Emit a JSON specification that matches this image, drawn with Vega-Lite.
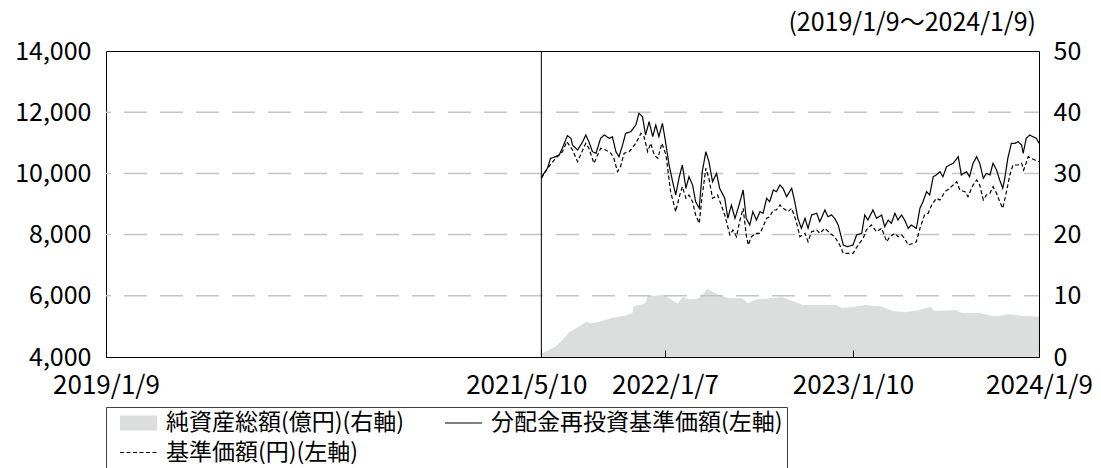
{
  "$schema": "https://vega.github.io/schema/vega-lite/v6.json",
  "width": 933,
  "height": 306,
  "autosize": {"type": "none"},
  "padding": {"left": 106, "top": 51, "right": 62, "bottom": 111},
  "background": "#ffffff",
  "title": {"text": "(2019/1/9～2024/1/9)", "anchor": "end", "frame": "group", "orient": "top", "offset": 3, "dx": -3, "font": "Noto Sans CJK JP", "fontSize": 25, "fontWeight": "normal", "color": "#000000"},
  "datasets": {
    "nav": [
      {"d": "2021/05/10", "s": "純資産総額(億円)(右軸)", "v": 0.3},
      {"d": "2021/05/12", "s": "純資産総額(億円)(右軸)", "v": 0.65},
      {"d": "2021/05/25", "s": "純資産総額(億円)(右軸)", "v": 1.1},
      {"d": "2021/06/07", "s": "純資産総額(億円)(右軸)", "v": 1.7},
      {"d": "2021/06/18", "s": "純資産総額(億円)(右軸)", "v": 2.6},
      {"d": "2021/06/27", "s": "純資産総額(億円)(右軸)", "v": 3.4},
      {"d": "2021/07/03", "s": "純資産総額(億円)(右軸)", "v": 4.0},
      {"d": "2021/07/23", "s": "純資産総額(億円)(右軸)", "v": 5.0},
      {"d": "2021/08/05", "s": "純資産総額(億円)(右軸)", "v": 5.7},
      {"d": "2021/08/15", "s": "純資産総額(億円)(右軸)", "v": 5.5},
      {"d": "2021/08/31", "s": "純資産総額(億円)(右軸)", "v": 5.7},
      {"d": "2021/09/26", "s": "純資産総額(億円)(右軸)", "v": 6.4},
      {"d": "2021/10/22", "s": "純資産総額(億円)(右軸)", "v": 6.8},
      {"d": "2021/11/04", "s": "純資産総額(億円)(右軸)", "v": 7.2},
      {"d": "2021/11/07", "s": "純資産総額(億円)(右軸)", "v": 8.3},
      {"d": "2021/11/30", "s": "純資産総額(億円)(右軸)", "v": 8.8},
      {"d": "2021/12/04", "s": "純資産総額(億円)(右軸)", "v": 10.0},
      {"d": "2021/12/20", "s": "純資産総額(億円)(右軸)", "v": 10.0},
      {"d": "2022/01/05", "s": "純資産総額(億円)(右軸)", "v": 10.2},
      {"d": "2022/01/15", "s": "純資産総額(億円)(右軸)", "v": 9.6},
      {"d": "2022/02/01", "s": "純資産総額(億円)(右軸)", "v": 8.7},
      {"d": "2022/02/10", "s": "純資産総額(億円)(右軸)", "v": 9.8},
      {"d": "2022/02/25", "s": "純資産総額(億円)(右軸)", "v": 9.4},
      {"d": "2022/03/15", "s": "純資産総額(億円)(右軸)", "v": 9.6},
      {"d": "2022/03/31", "s": "純資産総額(億円)(右軸)", "v": 11.1},
      {"d": "2022/04/20", "s": "純資産総額(億円)(右軸)", "v": 10.2},
      {"d": "2022/05/12", "s": "純資産総額(億円)(右軸)", "v": 9.6},
      {"d": "2022/06/08", "s": "純資産総額(億円)(右軸)", "v": 9.6},
      {"d": "2022/06/18", "s": "純資産総額(億円)(右軸)", "v": 8.8},
      {"d": "2022/07/04", "s": "純資産総額(億円)(右軸)", "v": 9.4},
      {"d": "2022/07/30", "s": "純資産総額(億円)(右軸)", "v": 9.6},
      {"d": "2022/08/25", "s": "純資産総額(億円)(右軸)", "v": 9.8},
      {"d": "2022/09/15", "s": "純資産総額(億円)(右軸)", "v": 9.1},
      {"d": "2022/10/03", "s": "純資産総額(億円)(右軸)", "v": 8.5},
      {"d": "2022/11/05", "s": "純資産総額(億円)(右軸)", "v": 8.5},
      {"d": "2022/12/07", "s": "純資産総額(億円)(右軸)", "v": 8.5},
      {"d": "2022/12/20", "s": "純資産総額(億円)(右軸)", "v": 8.0},
      {"d": "2023/01/09", "s": "純資産総額(億円)(右軸)", "v": 8.2},
      {"d": "2023/02/04", "s": "純資産総額(億円)(右軸)", "v": 8.5},
      {"d": "2023/03/09", "s": "純資産総額(億円)(右軸)", "v": 8.2},
      {"d": "2023/03/28", "s": "純資産総額(億円)(右軸)", "v": 7.5},
      {"d": "2023/04/23", "s": "純資産総額(億円)(右軸)", "v": 7.3},
      {"d": "2023/05/19", "s": "純資産総額(億円)(右軸)", "v": 7.7},
      {"d": "2023/06/11", "s": "純資産総額(億円)(右軸)", "v": 8.2},
      {"d": "2023/06/18", "s": "純資産総額(億円)(右軸)", "v": 7.5},
      {"d": "2023/07/31", "s": "純資産総額(億円)(右軸)", "v": 7.7},
      {"d": "2023/08/10", "s": "純資産総額(億円)(右軸)", "v": 7.2},
      {"d": "2023/09/14", "s": "純資産総額(億円)(右軸)", "v": 7.2},
      {"d": "2023/10/17", "s": "純資産総額(億円)(右軸)", "v": 6.6},
      {"d": "2023/11/12", "s": "純資産総額(億円)(右軸)", "v": 7.0},
      {"d": "2023/12/08", "s": "純資産総額(億円)(右軸)", "v": 6.7},
      {"d": "2024/01/06", "s": "純資産総額(億円)(右軸)", "v": 6.6},
      {"d": "2024/01/09", "s": "純資産総額(億円)(右軸)", "v": 6.6}
    ],
    "price": [
      {"d": "2021/05/10", "s": "分配金再投資基準価額(左軸)", "v": 9840},
      {"d": "2021/05/13", "s": "分配金再投資基準価額(左軸)", "v": 9948},
      {"d": "2021/05/22", "s": "分配金再投資基準価額(左軸)", "v": 10167},
      {"d": "2021/05/28", "s": "分配金再投資基準価額(左軸)", "v": 10494},
      {"d": "2021/06/07", "s": "分配金再投資基準価額(左軸)", "v": 10546},
      {"d": "2021/06/14", "s": "分配金再投資基準価額(左軸)", "v": 10601},
      {"d": "2021/06/20", "s": "分配金再投資基準価額(左軸)", "v": 10820},
      {"d": "2021/06/30", "s": "分配金再投資基準価額(左軸)", "v": 11232},
      {"d": "2021/07/07", "s": "分配金再投資基準価額(左軸)", "v": 11147},
      {"d": "2021/07/10", "s": "分配金再投資基準価額(左軸)", "v": 10928},
      {"d": "2021/07/20", "s": "分配金再投資基準価額(左軸)", "v": 10765},
      {"d": "2021/07/30", "s": "分配金再投資基準価額(左軸)", "v": 11036},
      {"d": "2021/08/05", "s": "分配金再投資基準価額(左軸)", "v": 11255},
      {"d": "2021/08/11", "s": "分配金再投資基準価額(左軸)", "v": 11036},
      {"d": "2021/08/18", "s": "分配金再投資基準価額(左軸)", "v": 10710},
      {"d": "2021/08/25", "s": "分配金再投資基準価額(左軸)", "v": 10657},
      {"d": "2021/09/03", "s": "分配金再投資基準価額(左軸)", "v": 11147},
      {"d": "2021/09/10", "s": "分配金再投資基準価額(左軸)", "v": 11255},
      {"d": "2021/09/20", "s": "分配金再投資基準価額(左軸)", "v": 11147},
      {"d": "2021/09/26", "s": "分配金再投資基準価額(左軸)", "v": 11200},
      {"d": "2021/10/03", "s": "分配金再投資基準価額(左軸)", "v": 10710},
      {"d": "2021/10/09", "s": "分配金再投資基準価額(左軸)", "v": 10546},
      {"d": "2021/10/16", "s": "分配金再投資基準価額(左軸)", "v": 10928},
      {"d": "2021/10/22", "s": "分配金再投資基準価額(左軸)", "v": 11310},
      {"d": "2021/11/01", "s": "分配金再投資基準価額(左軸)", "v": 11363},
      {"d": "2021/11/11", "s": "分配金再投資基準価額(左軸)", "v": 11582},
      {"d": "2021/11/17", "s": "分配金再投資基準価額(左軸)", "v": 11964},
      {"d": "2021/11/24", "s": "分配金再投資基準価額(左軸)", "v": 11853},
      {"d": "2021/11/30", "s": "分配金再投資基準価額(左軸)", "v": 11255},
      {"d": "2021/12/07", "s": "分配金再投資基準価額(左軸)", "v": 11690},
      {"d": "2021/12/14", "s": "分配金再投資基準価額(左軸)", "v": 11200},
      {"d": "2021/12/20", "s": "分配金再投資基準価額(左軸)", "v": 11582},
      {"d": "2021/12/26", "s": "分配金再投資基準価額(左軸)", "v": 11200},
      {"d": "2022/01/02", "s": "分配金再投資基準価額(左軸)", "v": 11636},
      {"d": "2022/01/07", "s": "分配金再投資基準価額(左軸)", "v": 11147},
      {"d": "2022/01/15", "s": "分配金再投資基準価額(左軸)", "v": 10275},
      {"d": "2022/01/22", "s": "分配金再投資基準価額(左軸)", "v": 9729},
      {"d": "2022/01/28", "s": "分配金再投資基準価額(左軸)", "v": 9294},
      {"d": "2022/02/04", "s": "分配金再投資基準価額(左軸)", "v": 9892},
      {"d": "2022/02/10", "s": "分配金再投資基準価額(左軸)", "v": 10275},
      {"d": "2022/02/17", "s": "分配金再投資基準価額(左軸)", "v": 9513},
      {"d": "2022/02/23", "s": "分配金再投資基準価額(左軸)", "v": 9892},
      {"d": "2022/03/02", "s": "分配金再投資基準価額(左軸)", "v": 9621},
      {"d": "2022/03/08", "s": "分配金再投資基準価額(左軸)", "v": 9076},
      {"d": "2022/03/15", "s": "分配金再投資基準価額(左軸)", "v": 8860},
      {"d": "2022/03/21", "s": "分配金再投資基準価額(左軸)", "v": 10056},
      {"d": "2022/03/28", "s": "分配金再投資基準価額(左軸)", "v": 10710},
      {"d": "2022/04/03", "s": "分配金再投資基準価額(左軸)", "v": 10383},
      {"d": "2022/04/10", "s": "分配金再投資基準価額(左軸)", "v": 9729},
      {"d": "2022/04/18", "s": "分配金再投資基準価額(左軸)", "v": 10003},
      {"d": "2022/04/24", "s": "分配金再投資基準価額(左軸)", "v": 9513},
      {"d": "2022/05/04", "s": "分配金再投資基準価額(左軸)", "v": 9186},
      {"d": "2022/05/10", "s": "分配金再投資基準価額(左軸)", "v": 8533},
      {"d": "2022/05/17", "s": "分配金再投資基準価額(左軸)", "v": 8967},
      {"d": "2022/05/24", "s": "分配金再投資基準価額(左軸)", "v": 8533},
      {"d": "2022/05/31", "s": "分配金再投資基準価額(左軸)", "v": 8912},
      {"d": "2022/06/09", "s": "分配金再投資基準価額(左軸)", "v": 9458},
      {"d": "2022/06/15", "s": "分配金再投資基準価額(左軸)", "v": 8533},
      {"d": "2022/06/22", "s": "分配金再投資基準価額(左軸)", "v": 8314},
      {"d": "2022/06/28", "s": "分配金再投資基準価額(左軸)", "v": 8749},
      {"d": "2022/07/05", "s": "分配金再投資基準価額(左軸)", "v": 8477},
      {"d": "2022/07/12", "s": "分配金再投資基準価額(左軸)", "v": 8749},
      {"d": "2022/07/18", "s": "分配金再投資基準価額(左軸)", "v": 8696},
      {"d": "2022/07/25", "s": "分配金再投資基準価額(左軸)", "v": 9186},
      {"d": "2022/07/31", "s": "分配金再投資基準価額(左軸)", "v": 9076},
      {"d": "2022/08/07", "s": "分配金再投資基準価額(左軸)", "v": 9458},
      {"d": "2022/08/13", "s": "分配金再投資基準価額(左軸)", "v": 9403},
      {"d": "2022/08/20", "s": "分配金再投資基準価額(左軸)", "v": 9621},
      {"d": "2022/08/26", "s": "分配金再投資基準価額(左軸)", "v": 9513},
      {"d": "2022/09/02", "s": "分配金再投資基準価額(左軸)", "v": 9239},
      {"d": "2022/09/12", "s": "分配金再投資基準価額(左軸)", "v": 9513},
      {"d": "2022/09/18", "s": "分配金再投資基準価額(左軸)", "v": 9076},
      {"d": "2022/09/24", "s": "分配金再投資基準価額(左軸)", "v": 8533},
      {"d": "2022/10/01", "s": "分配金再投資基準価額(左軸)", "v": 8206},
      {"d": "2022/10/08", "s": "分配金再投資基準価額(左軸)", "v": 8533},
      {"d": "2022/10/14", "s": "分配金再投資基準価額(左軸)", "v": 8206},
      {"d": "2022/10/21", "s": "分配金再投資基準価額(左軸)", "v": 8641},
      {"d": "2022/10/31", "s": "分配金再投資基準価額(左軸)", "v": 8696},
      {"d": "2022/11/06", "s": "分配金再投資基準価額(左軸)", "v": 8422},
      {"d": "2022/11/16", "s": "分配金再投資基準価額(左軸)", "v": 8804},
      {"d": "2022/11/22", "s": "分配金再投資基準価額(左軸)", "v": 8585},
      {"d": "2022/11/29", "s": "分配金再投資基準価額(左軸)", "v": 8641},
      {"d": "2022/12/05", "s": "分配金再投資基準価額(左軸)", "v": 8533},
      {"d": "2022/12/12", "s": "分配金再投資基準価額(左軸)", "v": 8314},
      {"d": "2022/12/22", "s": "分配金再投資基準価額(左軸)", "v": 7660},
      {"d": "2022/12/30", "s": "分配金再投資基準価額(左軸)", "v": 7605},
      {"d": "2023/01/10", "s": "分配金再投資基準価額(左軸)", "v": 7660},
      {"d": "2023/01/17", "s": "分配金再投資基準価額(左軸)", "v": 7987},
      {"d": "2023/01/27", "s": "分配金再投資基準価額(左軸)", "v": 8042},
      {"d": "2023/02/02", "s": "分配金再投資基準価額(左軸)", "v": 8641},
      {"d": "2023/02/08", "s": "分配金再投資基準価額(左軸)", "v": 8477},
      {"d": "2023/02/18", "s": "分配金再投資基準価額(左軸)", "v": 8804},
      {"d": "2023/02/25", "s": "分配金再投資基準価額(左軸)", "v": 8533},
      {"d": "2023/03/07", "s": "分配金再投資基準価額(左軸)", "v": 8641},
      {"d": "2023/03/13", "s": "分配金再投資基準価額(左軸)", "v": 8259},
      {"d": "2023/03/20", "s": "分配金再投資基準価額(左軸)", "v": 8477},
      {"d": "2023/03/26", "s": "分配金再投資基準価額(左軸)", "v": 8368},
      {"d": "2023/04/02", "s": "分配金再投資基準価額(左軸)", "v": 8696},
      {"d": "2023/04/08", "s": "分配金再投資基準価額(左軸)", "v": 8477},
      {"d": "2023/04/15", "s": "分配金再投資基準価額(左軸)", "v": 8641},
      {"d": "2023/04/21", "s": "分配金再投資基準価額(左軸)", "v": 8477},
      {"d": "2023/04/28", "s": "分配金再投資基準価額(左軸)", "v": 8206},
      {"d": "2023/05/04", "s": "分配金再投資基準価額(左軸)", "v": 8314},
      {"d": "2023/05/14", "s": "分配金再投資基準価額(左軸)", "v": 8206},
      {"d": "2023/05/21", "s": "分配金再投資基準価額(左軸)", "v": 8860},
      {"d": "2023/05/27", "s": "分配金再投資基準価額(左軸)", "v": 9076},
      {"d": "2023/06/03", "s": "分配金再投資基準価額(左軸)", "v": 9403},
      {"d": "2023/06/09", "s": "分配金再投資基準価額(左軸)", "v": 9294},
      {"d": "2023/06/16", "s": "分配金再投資基準価額(左軸)", "v": 9892},
      {"d": "2023/06/22", "s": "分配金再投資基準価額(左軸)", "v": 9948},
      {"d": "2023/06/29", "s": "分配金再投資基準価額(左軸)", "v": 10056},
      {"d": "2023/07/05", "s": "分配金再投資基準価額(左軸)", "v": 9892},
      {"d": "2023/07/12", "s": "分配金再投資基準価額(左軸)", "v": 10219},
      {"d": "2023/07/18", "s": "分配金再投資基準価額(左軸)", "v": 10275},
      {"d": "2023/07/25", "s": "分配金再投資基準価額(左軸)", "v": 10330},
      {"d": "2023/08/04", "s": "分配金再投資基準価額(左軸)", "v": 10546},
      {"d": "2023/08/10", "s": "分配金再投資基準価額(左軸)", "v": 9948},
      {"d": "2023/08/20", "s": "分配金再投資基準価額(左軸)", "v": 10056},
      {"d": "2023/08/26", "s": "分配金再投資基準価額(左軸)", "v": 9892},
      {"d": "2023/09/02", "s": "分配金再投資基準価額(左軸)", "v": 10330},
      {"d": "2023/09/09", "s": "分配金再投資基準価額(左軸)", "v": 10546},
      {"d": "2023/09/15", "s": "分配金再投資基準価額(左軸)", "v": 10330},
      {"d": "2023/09/22", "s": "分配金再投資基準価額(左軸)", "v": 9840},
      {"d": "2023/09/28", "s": "分配金再投資基準価額(左軸)", "v": 10003},
      {"d": "2023/10/05", "s": "分配金再投資基準価額(左軸)", "v": 9948},
      {"d": "2023/10/11", "s": "分配金再投資基準価額(左軸)", "v": 10330},
      {"d": "2023/10/18", "s": "分配金再投資基準価額(左軸)", "v": 10111},
      {"d": "2023/10/24", "s": "分配金再投資基準価額(左軸)", "v": 9784},
      {"d": "2023/10/30", "s": "分配金再投資基準価額(左軸)", "v": 9513},
      {"d": "2023/11/03", "s": "分配金再投資基準価額(左軸)", "v": 9840},
      {"d": "2023/11/09", "s": "分配金再投資基準価額(左軸)", "v": 10494},
      {"d": "2023/11/16", "s": "分配金再投資基準価額(左軸)", "v": 10984},
      {"d": "2023/11/23", "s": "分配金再投資基準価額(左軸)", "v": 10984},
      {"d": "2023/11/29", "s": "分配金再投資基準価額(左軸)", "v": 11036},
      {"d": "2023/12/06", "s": "分配金再投資基準価額(左軸)", "v": 10928},
      {"d": "2023/12/09", "s": "分配金再投資基準価額(左軸)", "v": 10657},
      {"d": "2023/12/15", "s": "分配金再投資基準価額(左軸)", "v": 11147},
      {"d": "2023/12/22", "s": "分配金再投資基準価額(左軸)", "v": 11255},
      {"d": "2023/12/28", "s": "分配金再投資基準価額(左軸)", "v": 11200},
      {"d": "2024/01/04", "s": "分配金再投資基準価額(左軸)", "v": 11147},
      {"d": "2024/01/09", "s": "分配金再投資基準価額(左軸)", "v": 10984},
      {"d": "2021/05/10", "s": "基準価額(円)(左軸)", "v": 9840},
      {"d": "2021/05/22", "s": "基準価額(円)(左軸)", "v": 10167},
      {"d": "2021/06/07", "s": "基準価額(円)(左軸)", "v": 10494},
      {"d": "2021/06/20", "s": "基準価額(円)(左軸)", "v": 10700},
      {"d": "2021/06/29", "s": "基準価額(円)(左軸)", "v": 11036},
      {"d": "2021/07/10", "s": "基準価額(円)(左軸)", "v": 10765},
      {"d": "2021/07/20", "s": "基準価額(円)(左軸)", "v": 10383},
      {"d": "2021/07/30", "s": "基準価額(円)(左軸)", "v": 10765},
      {"d": "2021/08/05", "s": "基準価額(円)(左軸)", "v": 10984},
      {"d": "2021/08/11", "s": "基準価額(円)(左軸)", "v": 10820},
      {"d": "2021/08/21", "s": "基準価額(円)(左軸)", "v": 10330},
      {"d": "2021/09/03", "s": "基準価額(円)(左軸)", "v": 10820},
      {"d": "2021/09/13", "s": "基準価額(円)(左軸)", "v": 10765},
      {"d": "2021/09/23", "s": "基準価額(円)(左軸)", "v": 10657},
      {"d": "2021/09/29", "s": "基準価額(円)(左軸)", "v": 10494},
      {"d": "2021/10/06", "s": "基準価額(円)(左軸)", "v": 10056},
      {"d": "2021/10/12", "s": "基準価額(円)(左軸)", "v": 10219},
      {"d": "2021/10/19", "s": "基準価額(円)(左軸)", "v": 10657},
      {"d": "2021/10/29", "s": "基準価額(円)(左軸)", "v": 10710},
      {"d": "2021/11/11", "s": "基準価額(円)(左軸)", "v": 10984},
      {"d": "2021/11/21", "s": "基準価額(円)(左軸)", "v": 11310},
      {"d": "2021/11/27", "s": "基準価額(円)(左軸)", "v": 11200},
      {"d": "2021/12/04", "s": "基準価額(円)(左軸)", "v": 10710},
      {"d": "2021/12/10", "s": "基準価額(円)(左軸)", "v": 10984},
      {"d": "2021/12/17", "s": "基準価額(円)(左軸)", "v": 10601},
      {"d": "2021/12/24", "s": "基準価額(円)(左軸)", "v": 10494},
      {"d": "2022/01/01", "s": "基準価額(円)(左軸)", "v": 10984},
      {"d": "2022/01/09", "s": "基準価額(円)(左軸)", "v": 10601},
      {"d": "2022/01/18", "s": "基準価額(円)(左軸)", "v": 9403},
      {"d": "2022/01/28", "s": "基準価額(円)(左軸)", "v": 8749},
      {"d": "2022/02/04", "s": "基準価額(円)(左軸)", "v": 9239},
      {"d": "2022/02/10", "s": "基準価額(円)(左軸)", "v": 9566},
      {"d": "2022/02/17", "s": "基準価額(円)(左軸)", "v": 9186},
      {"d": "2022/02/23", "s": "基準価額(円)(左軸)", "v": 9294},
      {"d": "2022/03/02", "s": "基準価額(円)(左軸)", "v": 9076},
      {"d": "2022/03/08", "s": "基準価額(円)(左軸)", "v": 8641},
      {"d": "2022/03/15", "s": "基準価額(円)(左軸)", "v": 8368},
      {"d": "2022/03/21", "s": "基準価額(円)(左軸)", "v": 9294},
      {"d": "2022/03/28", "s": "基準価額(円)(左軸)", "v": 10167},
      {"d": "2022/04/03", "s": "基準価額(円)(左軸)", "v": 9840},
      {"d": "2022/04/10", "s": "基準価額(円)(左軸)", "v": 9186},
      {"d": "2022/04/20", "s": "基準価額(円)(左軸)", "v": 9294},
      {"d": "2022/04/27", "s": "基準価額(円)(左軸)", "v": 8967},
      {"d": "2022/05/04", "s": "基準価額(円)(左軸)", "v": 8641},
      {"d": "2022/05/14", "s": "基準価額(円)(左軸)", "v": 7987},
      {"d": "2022/05/20", "s": "基準価額(円)(左軸)", "v": 8150},
      {"d": "2022/05/27", "s": "基準価額(円)(左軸)", "v": 7932},
      {"d": "2022/06/02", "s": "基準価額(円)(左軸)", "v": 8422},
      {"d": "2022/06/09", "s": "基準価額(円)(左軸)", "v": 8860},
      {"d": "2022/06/15", "s": "基準価額(円)(左軸)", "v": 7987},
      {"d": "2022/06/19", "s": "基準価額(円)(左軸)", "v": 7660},
      {"d": "2022/06/25", "s": "基準価額(円)(左軸)", "v": 7932},
      {"d": "2022/07/05", "s": "基準価額(円)(左軸)", "v": 8042},
      {"d": "2022/07/12", "s": "基準価額(円)(左軸)", "v": 8042},
      {"d": "2022/07/18", "s": "基準価額(円)(左軸)", "v": 8259},
      {"d": "2022/07/25", "s": "基準価額(円)(左軸)", "v": 8533},
      {"d": "2022/07/31", "s": "基準価額(円)(左軸)", "v": 8585},
      {"d": "2022/08/07", "s": "基準価額(円)(左軸)", "v": 8804},
      {"d": "2022/08/13", "s": "基準価額(円)(左軸)", "v": 8804},
      {"d": "2022/08/20", "s": "基準価額(円)(左軸)", "v": 8967},
      {"d": "2022/08/26", "s": "基準価額(円)(左軸)", "v": 8860},
      {"d": "2022/09/05", "s": "基準価額(円)(左軸)", "v": 8749},
      {"d": "2022/09/12", "s": "基準価額(円)(左軸)", "v": 8860},
      {"d": "2022/09/21", "s": "基準価額(円)(左軸)", "v": 8422},
      {"d": "2022/09/28", "s": "基準価額(円)(左軸)", "v": 7932},
      {"d": "2022/10/08", "s": "基準価額(円)(左軸)", "v": 8042},
      {"d": "2022/10/14", "s": "基準価額(円)(左軸)", "v": 7768},
      {"d": "2022/10/21", "s": "基準価額(円)(左軸)", "v": 8095},
      {"d": "2022/10/31", "s": "基準価額(円)(左軸)", "v": 8150},
      {"d": "2022/11/06", "s": "基準価額(円)(左軸)", "v": 8042},
      {"d": "2022/11/16", "s": "基準価額(円)(左軸)", "v": 8206},
      {"d": "2022/11/26", "s": "基準価額(円)(左軸)", "v": 8042},
      {"d": "2022/12/05", "s": "基準価額(円)(左軸)", "v": 7932},
      {"d": "2022/12/15", "s": "基準価額(円)(左軸)", "v": 7660},
      {"d": "2022/12/22", "s": "基準価額(円)(左軸)", "v": 7389},
      {"d": "2022/12/30", "s": "基準価額(円)(左軸)", "v": 7389},
      {"d": "2023/01/10", "s": "基準価額(円)(左軸)", "v": 7389},
      {"d": "2023/01/20", "s": "基準価額(円)(左軸)", "v": 7660},
      {"d": "2023/01/30", "s": "基準価額(円)(左軸)", "v": 7879},
      {"d": "2023/02/05", "s": "基準価額(円)(左軸)", "v": 8150},
      {"d": "2023/02/15", "s": "基準価額(円)(左軸)", "v": 8314},
      {"d": "2023/02/25", "s": "基準価額(円)(左軸)", "v": 8095},
      {"d": "2023/03/07", "s": "基準価額(円)(左軸)", "v": 8206},
      {"d": "2023/03/17", "s": "基準価額(円)(左軸)", "v": 7768},
      {"d": "2023/03/23", "s": "基準価額(円)(左軸)", "v": 7932},
      {"d": "2023/04/02", "s": "基準価額(円)(左軸)", "v": 8042},
      {"d": "2023/04/08", "s": "基準価額(円)(左軸)", "v": 7932},
      {"d": "2023/04/15", "s": "基準価額(円)(左軸)", "v": 7987},
      {"d": "2023/04/21", "s": "基準価額(円)(左軸)", "v": 7879},
      {"d": "2023/04/28", "s": "基準価額(円)(左軸)", "v": 7660},
      {"d": "2023/05/08", "s": "基準価額(円)(左軸)", "v": 7714},
      {"d": "2023/05/14", "s": "基準価額(円)(左軸)", "v": 7768},
      {"d": "2023/05/21", "s": "基準価額(円)(左軸)", "v": 8206},
      {"d": "2023/05/30", "s": "基準価額(円)(左軸)", "v": 8641},
      {"d": "2023/06/06", "s": "基準価額(円)(左軸)", "v": 8696},
      {"d": "2023/06/13", "s": "基準価額(円)(左軸)", "v": 8967},
      {"d": "2023/06/22", "s": "基準価額(円)(左軸)", "v": 9186},
      {"d": "2023/06/29", "s": "基準価額(円)(左軸)", "v": 9131},
      {"d": "2023/07/09", "s": "基準価額(円)(左軸)", "v": 9403},
      {"d": "2023/07/18", "s": "基準価額(円)(左軸)", "v": 9513},
      {"d": "2023/07/25", "s": "基準価額(円)(左軸)", "v": 9621},
      {"d": "2023/08/01", "s": "基準価額(円)(左軸)", "v": 9729},
      {"d": "2023/08/07", "s": "基準価額(円)(左軸)", "v": 9458},
      {"d": "2023/08/17", "s": "基準価額(円)(左軸)", "v": 9403},
      {"d": "2023/08/23", "s": "基準価額(円)(左軸)", "v": 9239},
      {"d": "2023/09/02", "s": "基準価額(円)(左軸)", "v": 9621},
      {"d": "2023/09/09", "s": "基準価額(円)(左軸)", "v": 9784},
      {"d": "2023/09/15", "s": "基準価額(円)(左軸)", "v": 9621},
      {"d": "2023/09/22", "s": "基準価額(円)(左軸)", "v": 9131},
      {"d": "2023/09/28", "s": "基準価額(円)(左軸)", "v": 9294},
      {"d": "2023/10/05", "s": "基準価額(円)(左軸)", "v": 9349},
      {"d": "2023/10/11", "s": "基準価額(円)(左軸)", "v": 9566},
      {"d": "2023/10/18", "s": "基準価額(円)(左軸)", "v": 9349},
      {"d": "2023/10/24", "s": "基準価額(円)(左軸)", "v": 9076},
      {"d": "2023/10/30", "s": "基準価額(円)(左軸)", "v": 8860},
      {"d": "2023/11/05", "s": "基準価額(円)(左軸)", "v": 9294},
      {"d": "2023/11/13", "s": "基準価額(円)(左軸)", "v": 9948},
      {"d": "2023/11/19", "s": "基準価額(円)(左軸)", "v": 10275},
      {"d": "2023/11/29", "s": "基準価額(円)(左軸)", "v": 10275},
      {"d": "2023/12/06", "s": "基準価額(円)(左軸)", "v": 10330},
      {"d": "2023/12/10", "s": "基準価額(円)(左軸)", "v": 10111},
      {"d": "2023/12/19", "s": "基準価額(円)(左軸)", "v": 10546},
      {"d": "2023/12/25", "s": "基準価額(円)(左軸)", "v": 10494},
      {"d": "2024/01/01", "s": "基準価額(円)(左軸)", "v": 10439},
      {"d": "2024/01/09", "s": "基準価額(円)(左軸)", "v": 10383}
    ]
  },
  "layer": [
    {
      "data": {"name": "nav"},
      "mark": {"type": "area", "opacity": 1},
      "encoding": {
        "x": {
          "field": "d", "type": "temporal", "title": null,
          "scale": {"domain": [{"year": 2019, "month": 1, "date": 9}, {"year": 2024, "month": 1, "date": 9}], "nice": false},
          "axis": {
            "values": [{"year": 2019, "month": 1, "date": 9}, {"year": 2021, "month": 5, "date": 10}, {"year": 2022, "month": 1, "date": 7}, {"year": 2023, "month": 1, "date": 10}, {"year": 2024, "month": 1, "date": 9}],
            "format": "%Y/%-m/%-d", "zindex": 1,
            "ticks": true, "tickSize": -7, "tickColor": "#000000", "tickWidth": 1,
            "labelPadding": 22, "labelFlush": false, "labelOverlap": false, "labelBound": false, "labelFontSize": 26,
            "labelOffset": {"condition": {"test": "year(datum.value) == 2021", "value": -15}, "value": 0}
          }
        },
        "y": {
          "field": "v", "type": "quantitative", "title": null,
          "scale": {"domain": [0, 50], "nice": false, "zero": false},
          "axis": {"orient": "right", "values": [0, 10, 20, 30, 40, 50], "labelPadding": 14}
        },
        "fill": {
          "field": "s", "type": "nominal",
          "scale": {"domain": ["純資産総額(億円)(右軸)", "分配金再投資基準価額(左軸)", "基準価額(円)(左軸)"], "range": ["#dcdddd", "#000000", "#000000"]},
          "legend": {
            "orient": "none", "legendX": 0, "legendY": 356, "direction": "horizontal", "columns": 2, "title": null,
            "strokeColor": "#404040", "padding": 4, "clipHeight": 24,
            "labelFont": "Noto Sans CJK JP", "labelFontSize": 23, "labelColor": "#000000", "labelLimit": 600,
            "symbolOffset": 9, "labelOffset": 8,
            "columnPadding": 30, "rowPadding": 5.5, "symbolSize": 1369, "symbolStrokeWidth": 1.2, "symbolOpacity": 1,
            "symbolType": {"expr": "datum.value === '純資産総額(億円)(右軸)' ? 'M-1,-0.405H1V0.405H-1Z' : 'stroke'"},
            "symbolStrokeColor": {"expr": "datum.value === '純資産総額(億円)(右軸)' ? 'transparent' : '#000000'"},
            "symbolDash": {"expr": "datum.value === '基準価額(円)(左軸)' ? [4, 2.5] : [1, 0]"}
          }
        }
      }
    },
    {
      "layer": [
        {
          "data": {"values": [{"g": 6000}, {"g": 8000}, {"g": 10000}, {"g": 12000}]},
          "mark": {"type": "rule", "color": "#c4c4c4", "strokeWidth": 1.5, "strokeDash": [23, 13], "strokeDashOffset": 8},
          "encoding": {
            "y": {"field": "g", "type": "quantitative", "title": null, "scale": {"domain": [4000, 14000], "nice": false, "zero": false}}
          }
        },
        {
          "data": {"name": "price"},
          "mark": {"type": "line", "color": "#000000", "strokeWidth": 1.2},
          "encoding": {
            "x": {"field": "d", "type": "temporal", "title": null, "scale": {"domain": [{"year": 2019, "month": 1, "date": 9}, {"year": 2024, "month": 1, "date": 9}], "nice": false}},
            "y": {
              "field": "v", "type": "quantitative", "title": null,
              "scale": {"domain": [4000, 14000], "nice": false, "zero": false},
              "axis": {"orient": "left", "values": [4000, 6000, 8000, 10000, 12000, 14000], "format": ",.0f", "labelPadding": 15}
            },
            "strokeDash": {
              "field": "s", "type": "nominal",
              "scale": {"domain": ["分配金再投資基準価額(左軸)", "基準価額(円)(左軸)"], "range": [[1, 0], [4, 2.5]]},
              "legend": null
            }
          }
        },
        {
          "data": {"values": [{}]},
          "mark": {"type": "rule", "color": "#000000", "strokeWidth": 1},
          "encoding": {
            "x": {"datum": {"year": 2021, "month": 5, "date": 10}, "type": "temporal", "title": null}
          }
        }
      ]
    }
  ],
  "resolve": {"scale": {"y": "independent"}, "axis": {"y": "independent"}},
  "config": {
    "font": "Noto Sans CJK JP",
    "view": {"stroke": "#000000", "strokeWidth": 1},
    "axis": {"grid": false, "domain": false, "ticks": false, "labelFont": "Noto Sans CJK JP", "labelFontSize": 25, "labelColor": "#000000"}
  }
}
